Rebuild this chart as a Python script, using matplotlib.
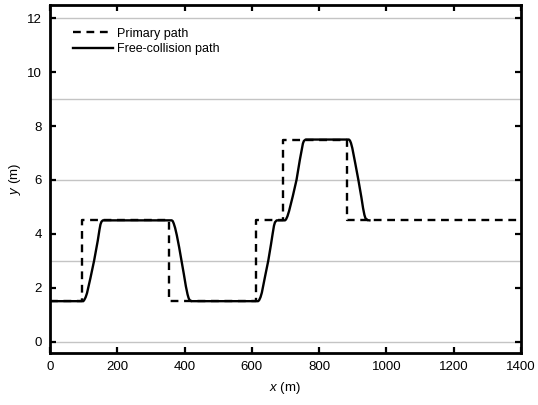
import matplotlib
matplotlib.use('Agg')
import matplotlib.pyplot as plt

plt.rcParams['font.family'] = ['Liberation Sans', 'DejaVu Sans']
plt.rcParams['mathtext.fontset'] = 'custom'
plt.rcParams['mathtext.it'] = 'Liberation Sans:italic'
plt.rcParams['mathtext.rm'] = 'Liberation Sans'

# lane boundaries (m)
lane_lines = [0, 3, 6, 9, 12]

# primary path (step changes)
primary_x = [0, 96, 96, 355, 355, 614, 614, 694, 694, 882, 882, 1400]
primary_y = [1.5, 1.5, 4.5, 4.5, 1.5, 1.5, 4.5, 4.5, 7.5, 7.5, 4.5, 4.5]

# collision-free path
free_x = [0, 99, 102, 106, 110, 120, 131, 142, 147, 150, 153, 157,
          362, 365, 368, 372, 377, 384, 391, 398, 404, 409, 412, 415, 420,
          619, 622, 626, 630, 640, 649, 657, 662, 666, 669, 674,
          699, 702, 706, 711, 722, 733, 743, 749, 752, 755, 760,
          889, 892, 895, 899, 908, 917, 926, 931, 935, 938, 944, 950]
free_y = [1.5, 1.5, 1.55, 1.65, 1.8, 2.35, 3.0, 3.75, 4.15, 4.35, 4.45, 4.5,
          4.5, 4.47, 4.38, 4.22, 3.95, 3.5, 3.0, 2.5, 2.05, 1.75, 1.62, 1.54, 1.5,
          1.5, 1.54, 1.65, 1.82, 2.45, 3.0, 3.6, 4.0, 4.3, 4.43, 4.5,
          4.5, 4.54, 4.65, 4.85, 5.4, 6.0, 6.75, 7.15, 7.35, 7.45, 7.5,
          7.5, 7.46, 7.37, 7.18, 6.6, 6.0, 5.35, 4.95, 4.7, 4.58, 4.51, 4.5]

fig = plt.figure(figsize=(5.38, 4.05), dpi=100)
ax = fig.add_axes([0.093, 0.128, 0.875, 0.86])

for y in lane_lines:
    ax.axhline(y, color='#c4c4c4', lw=1.0, zorder=1)

ax.plot(primary_x, primary_y, color='black', lw=1.7, dashes=(3.3, 2.4),
        label='Primary path', zorder=2)
ax.plot(free_x, free_y, color='black', lw=1.7, label='Free-collision path', zorder=3)

ax.set_xlim(0, 1400)
ax.set_ylim(-0.43, 12.5)
ax.set_xticks(range(0, 1401, 200))
ax.set_yticks(range(0, 13, 2))
ax.tick_params(direction='in', length=4, width=1.6, top=True, right=True,
               labelsize=9.5, pad=6)
for s in ax.spines.values():
    s.set_linewidth(2.0)

ax.set_xlabel('$x$ (m)', fontsize=9.5, labelpad=5)
ax.set_ylabel('$y$ (m)', fontsize=9.5, labelpad=3)

ax.legend(loc='upper left', frameon=False, fontsize=9, handlelength=3.2,
          labelspacing=0.3, borderaxespad=0.3, handletextpad=0.35,
          bbox_to_anchor=(0.03, 0.96))

fig.savefig('out.png', dpi=100)
